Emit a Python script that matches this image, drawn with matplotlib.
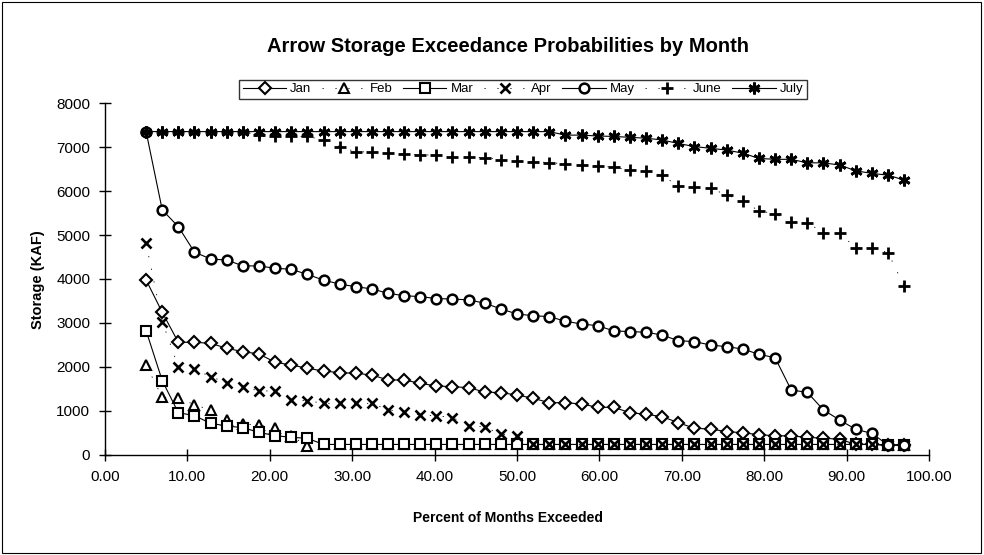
import matplotlib
matplotlib.use("Agg")
import matplotlib.pyplot as plt
from matplotlib.patches import Rectangle
from matplotlib.ticker import FormatStrFormatter

plt.rcParams['font.family'] = ['Liberation Sans', 'DejaVu Sans']

# percent of months exceeded (48 ranked months)
pct = [5.00, 6.96, 8.91, 10.87, 12.83, 14.79, 16.74, 18.70, 20.66, 22.61,
       24.57, 26.53, 28.48, 30.44, 32.40, 34.36, 36.31, 38.27, 40.23, 42.18,
       44.14, 46.10, 48.05, 50.01, 51.97, 53.93, 55.88, 57.84, 59.80, 61.75,
       63.71, 65.67, 67.62, 69.58, 71.54, 73.50, 75.45, 77.41, 79.37, 81.32,
       83.28, 85.24, 87.19, 89.15, 91.11, 93.07, 95.02, 96.98]

jan = [3977, 3243, 2561, 2561, 2538, 2425, 2349, 2296, 2107, 2046,
       1970, 1909, 1871, 1856, 1818, 1705, 1705, 1629, 1568, 1553,
       1530, 1430, 1416, 1364, 1288, 1189, 1189, 1159, 1083, 1083,
       962, 925, 871, 735, 606, 591, 530, 507, 460, 439,
       432, 402, 379, 360, 240, 240, 225, 225]

feb = [2046, 1310, 1305, 1140, 1023, 800, 700, 690, 610, 430,
       205, 240, 240, 240, 240, 240, 240, 240, 240, 240,
       240, 240, 240, 240, 240, 240, 240, 240, 240, 240,
       240, 240, 240, 240, 240, 240, 240, 240, 240, 240,
       240, 240, 240, 240, 240, 240, 225, 225]

mar = [2826, 1690, 962, 894, 720, 659, 621, 515, 439, 402,
       379, 240, 240, 240, 240, 240, 240, 240, 240, 240,
       240, 240, 240, 240, 240, 240, 240, 240, 240, 240,
       240, 240, 240, 240, 240, 240, 240, 240, 240, 240,
       240, 240, 240, 240, 240, 240, 225, 225]

apr = [4810, 3030, 2008, 1947, 1780, 1644, 1553, 1455, 1455, 1250,
       1235, 1174, 1174, 1174, 1174, 1023, 985, 909, 890, 852,
       670, 636, 470, 440, 240, 240, 240, 240, 240, 240,
       240, 240, 240, 240, 240, 240, 240, 240, 240, 240,
       240, 240, 240, 240, 240, 240, 225, 225]

may = [7350, 5570, 5190, 4610, 4455, 4430, 4300, 4295, 4245, 4220,
       4105, 3975, 3885, 3825, 3775, 3675, 3620, 3600, 3555, 3545,
       3525, 3450, 3320, 3205, 3165, 3145, 3040, 2977, 2939, 2820,
       2805, 2790, 2727, 2598, 2576, 2500, 2462, 2409, 2288, 2212,
       1477, 1424, 1023, 796, 583, 492, 227, 227]

june = [7350, 7350, 7350, 7350, 7350, 7350, 7350, 7270, 7240, 7240,
        7240, 7160, 7010, 6890, 6890, 6860, 6840, 6820, 6820, 6780,
        6765, 6760, 6710, 6680, 6665, 6645, 6615, 6590, 6570, 6540,
        6480, 6460, 6360, 6110, 6100, 6060, 5910, 5770, 5550, 5480,
        5300, 5280, 5050, 5040, 4710, 4710, 4600, 3840]

july = [7350, 7350, 7350, 7350, 7350, 7350, 7350, 7350, 7350, 7350,
        7350, 7350, 7350, 7350, 7350, 7350, 7350, 7350, 7350, 7350,
        7350, 7350, 7350, 7350, 7350, 7350, 7270, 7270, 7250, 7240,
        7220, 7200, 7160, 7080, 7010, 6970, 6930, 6860, 6740, 6720,
        6720, 6640, 6640, 6590, 6460, 6400, 6360, 6250]

fig = plt.figure(figsize=(9.84, 5.55), dpi=100)
ax = fig.add_axes([0.1066, 0.1802, 0.8375, 0.6342])

solid = dict(color='black', lw=0.8, linestyle='-')
dashed = dict(color='black', lw=0.6, linestyle=(0, (1.5, 14)))

ax.plot(pct, jan, marker='D', ms=6, mfc='white', mec='black', mew=1.5, label='Jan', **solid)
ax.plot(pct, feb, marker='^', ms=6.5, mfc='white', mec='black', mew=1.5, label='Feb', **dashed)
ax.plot(pct, mar, marker='s', ms=6.5, mfc='white', mec='black', mew=1.5, label='Mar', **solid)
ax.plot(pct, apr, marker='x', ms=7.5, mec='black', mew=1.9, label='Apr', **dashed)
ax.plot(pct, may, marker='o', ms=7, mfc='white', mec='black', mew=1.8, label='May', **solid)
ax.plot(pct, june, marker='+', ms=9, mec='black', mew=2, label='June', **dashed)
ax.plot(pct, july, marker=(6, 2, 0), ms=8.5, mec='black', mew=2, label='July', **solid)

ax.set_xlim(0, 100)
ax.set_ylim(0, 8000)
ax.set_xticks(range(0, 101, 10))
ax.set_yticks(range(0, 8001, 1000))
ax.xaxis.set_major_formatter(FormatStrFormatter('%.2f'))
ax.tick_params(direction='inout', length=9, width=1, labelsize=11, pad=6)
for s in ['top', 'right']:
    ax.spines[s].set_visible(False)
for s in ['left', 'bottom']:
    ax.spines[s].set_linewidth(1)

fig.text(0.516, 0.917, 'Arrow Storage Exceedance Probabilities by Month',
         ha='center', va='center', fontsize=14.5, fontweight='bold')
fig.text(0.516, 0.067, 'Percent of Months Exceeded',
         ha='center', va='center', fontsize=10, fontweight='bold')
fig.text(0.039, 0.497, 'Storage (KAF)', rotation=90,
         ha='center', va='center', fontsize=10.5, fontweight='bold')

leg = fig.legend(loc='center', bbox_to_anchor=(0.5315, 0.839), ncol=7,
                 fontsize=9.5, frameon=True, fancybox=False, edgecolor='black',
                 handlelength=3.3, handletextpad=0.3, columnspacing=0.8,
                 borderpad=0.25)
leg.get_frame().set_linewidth(1)

fig.patches.append(Rectangle((0.002, 0.003), 0.995, 0.994, transform=fig.transFigure,
                             fill=False, edgecolor='black', lw=0.8))

fig.savefig('out.png', dpi=100)
